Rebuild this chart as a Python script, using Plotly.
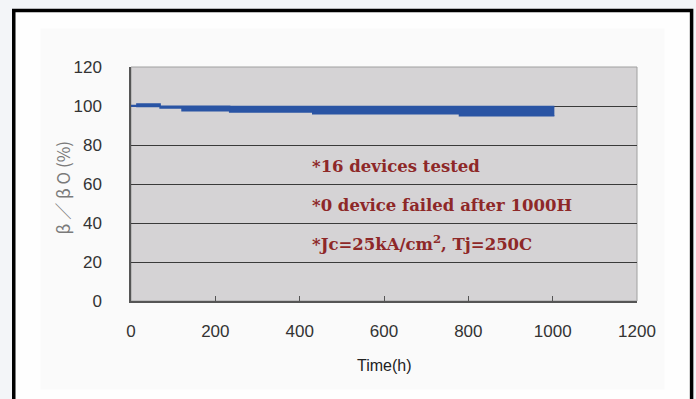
import plotly.graph_objects as go

# ---- data ----
time_h = [0, 14, 69, 121, 234, 431, 779, 1004]
beta_upper = [100.2, 101.0, 99.9, 99.9, 99.8, 99.7, 99.7, 99.7]
beta_lower = [99.9, 99.8, 99.0, 97.6, 96.9, 96.0, 95.0, 95.0]

x_ticks = [0, 200, 400, 600, 800, 1000, 1200]
y_ticks = [0, 20, 40, 60, 80, 100, 120]
grid_vals = [20, 40, 60, 80, 100]

notes = [
    "*16 devices tested",
    "*0 device failed after 1000H",
    "*Jc=25kA/cm<sup>2</sup>, Tj=250C",
]

NARROW = "Liberation Sans Narrow, Arial Narrow, Liberation Sans, Arial, sans-serif"
BLUE = "#2a54a4"

fig = go.Figure()
fig.add_trace(go.Scatter(
    x=time_h, y=beta_upper, mode="lines", line=dict(color=BLUE, width=1.5, shape="hv"),
    showlegend=False, hoverinfo="skip"))
fig.add_trace(go.Scatter(
    x=time_h, y=beta_lower, mode="lines", line=dict(color=BLUE, width=1.5, shape="hv"),
    fill="tonexty", fillcolor=BLUE, showlegend=False, hoverinfo="skip"))

# note positions (layout placement)
note_pos_y = [68.9, 49.2, 29.7]
annotations = []
for txt, yy in zip(notes, note_pos_y):
    annotations.append(dict(
        x=424, y=yy, xref="x", yref="y", text=txt, showarrow=False,
        xanchor="left", yanchor="middle",
        font=dict(family="DejaVu Serif, Liberation Serif, serif", size=16.5,
                  color="#8e2828", weight="bold")))

annotations.append(dict(
    x=-0.1336, y=0.483, xref="paper", yref="paper", text="β ／ β O (%)",
    showarrow=False, textangle=-90, xanchor="center", yanchor="middle",
    font=dict(family="Noto Sans CJK JP, DejaVu Sans, sans-serif", size=17, color="#7a7a7a")))
annotations.append(dict(
    x=0.5, y=-0.2755, xref="paper", yref="paper", text="Time(h)",
    showarrow=False, xanchor="center", yanchor="middle",
    font=dict(family=NARROW, size=16, color="#222222")))

shapes = [
    # slide frame
    dict(type="rect", xref="paper", yref="paper", x0=-0.2317, x1=1.1079, y0=-0.47, y1=1.2410,
         fillcolor="#fefefe", line=dict(color="#000000", width=3.5), layer="below"),
    # chart area
    dict(type="rect", xref="paper", yref="paper", x0=-0.179, x1=1.0546, y0=-0.378, y1=1.164,
         fillcolor="#fafafa", line=dict(width=0), layer="below"),
    # plot area
    dict(type="rect", xref="paper", yref="paper", x0=0, x1=1, y0=0, y1=1,
         fillcolor="#d5d3d5", line=dict(color="#a0a0a0", width=1), layer="below"),
]

fig.update_layout(
    width=696, height=399,
    margin=dict(l=131, r=59, t=67, b=98),
    paper_bgcolor="#f3f5f8",
    plot_bgcolor="#d5d3d5",
    showlegend=False,
    annotations=annotations,
    shapes=shapes,
    xaxis=dict(
        range=[0, 1200], tickvals=x_ticks, ticktext=[str(v) for v in x_ticks],
        showgrid=False, zeroline=False, showline=True, linecolor="#555555", linewidth=1.5,
        ticks="inside", ticklen=5, tickcolor="#555555", tickwidth=1,
        tickfont=dict(family=NARROW, size=17, color="#333333"),
        ticklabelstandoff=14, fixedrange=True),
    yaxis=dict(
        range=[0, 120], tickvals=y_ticks, ticktext=[str(v) for v in y_ticks],
        showgrid=False, zeroline=False, showline=True, linecolor="#555555", linewidth=1.5,
        ticks="", tickfont=dict(family=NARROW, size=17, color="#333333"),
        ticklabelstandoff=24,
        minor=dict(tickvals=grid_vals, showgrid=True, gridcolor="#3a3a3a", gridwidth=1.4, ticks=""),
        fixedrange=True),
)

fig.write_html("out.html",
               config={"displayModeBar": False},
               post_script="document.body.style.margin='0';document.body.style.padding='0';")
